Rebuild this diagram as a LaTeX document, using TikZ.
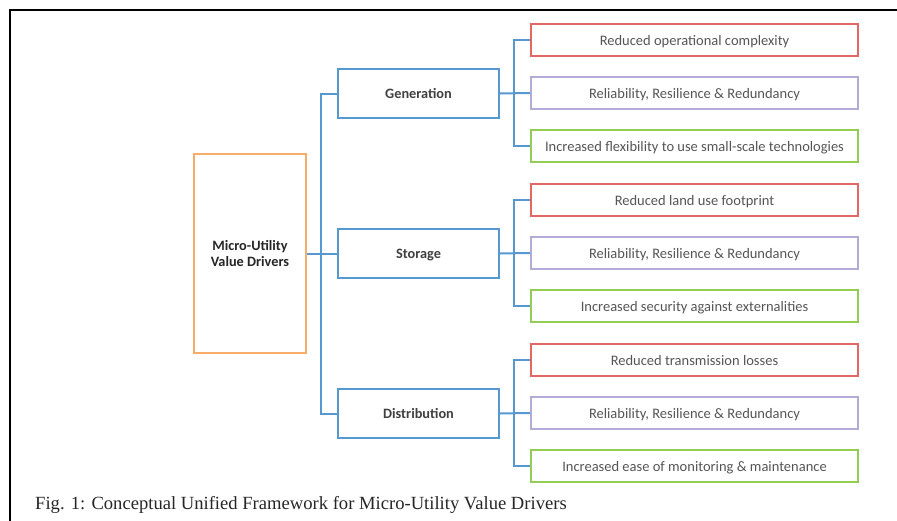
\documentclass[tikz,border=0pt]{standalone}
\usepackage{fontspec}
\setmainfont{Liberation Serif}
\newfontfamily\boxfont{Carlito}
\definecolor{linkblue}{RGB}{88,152,208}
\definecolor{rootorange}{RGB}{247,172,104}
\definecolor{edgered}{RGB}{226,104,104}
\definecolor{edgepurple}{RGB}{182,170,216}
\definecolor{edgegreen}{RGB}{146,206,86}
\definecolor{labelgray}{RGB}{85,85,85}
\definecolor{headgray}{RGB}{64,64,64}
\tikzset{
  linkline/.style={draw=linkblue, line width=2pt},
  rootbox/.style={draw=rootorange, line width=2pt, minimum width=112pt, minimum height=199pt,
    align=center, inner sep=0pt, font=\boxfont\bfseries\fontsize{14.3}{16}\selectfont, text=black!85},
  areabox/.style={draw=linkblue, line width=2pt, minimum width=161pt, minimum height=49pt,
    inner sep=0pt, text height=12pt, text depth=2pt,
    font=\boxfont\bfseries\fontsize{14.3}{16}\selectfont, text=headgray},
  leafbox/.style={line width=2pt, minimum width=327pt, minimum height=32pt,
    inner sep=0pt, text height=12pt, text depth=2pt,
    font=\boxfont\fontsize{14.5}{16}\selectfont, text=labelgray},
  redbox/.style={leafbox, draw=edgered},
  purplebox/.style={leafbox, draw=edgepurple},
  greenbox/.style={leafbox, draw=edgegreen}
}
\begin{document}
\begin{tikzpicture}[x=1pt, y=-1pt]
\useasboundingbox (0,0) rectangle (897,520);
% page frame
\draw[line width=2pt] (10,521) -- (10,10) -- (898,10);

% root and the three areas
\node[rootbox] (root) at (250,253.5) {Micro-Utility\\Value Drivers};
\node[areabox] (gen) at (418.5,93.5) {Generation};
\node[areabox] (sto) at (418.5,253.5) {Storage};
\node[areabox] (dis) at (418.5,413.5) {Distribution};

% generation drivers
\node[redbox]    (g1) at (694.5,40)  {Reduced operational complexity};
\node[purplebox] (g2) at (694.5,93)  {Reliability, Resilience \& Redundancy};
\node[greenbox]  (g3) at (694.5,146) {Increased flexibility to use small-scale technologies};
% storage drivers
\node[redbox]    (s1) at (694.5,200) {Reduced land use footprint};
\node[purplebox] (s2) at (694.5,253) {Reliability, Resilience \& Redundancy};
\node[greenbox]  (s3) at (694.5,306) {Increased security against externalities};
% distribution drivers
\node[redbox]    (d1) at (694.5,360) {Reduced transmission losses};
\node[purplebox] (d2) at (694.5,413) {Reliability, Resilience \& Redundancy};
\node[greenbox]  (d3) at (694.5,466) {Increased ease of monitoring \& maintenance};

% root to areas
\draw[linkline] (root.east) -- (sto.west);
\draw[linkline] (gen.west) -- ++(-16,0) |- (dis.west);

% areas to drivers
\draw[linkline] (gen.east) -- (g2.west);
\draw[linkline] (g1.west) -- ++(-16,0) |- (g3.west);
\draw[linkline] (sto.east) -- (s2.west);
\draw[linkline] (s1.west) -- ++(-16,0) |- (s3.west);
\draw[linkline] (dis.east) -- (d2.west);
\draw[linkline] (d1.west) -- ++(-16,0) |- (d3.west);

% caption
\node[anchor=base west, inner sep=0pt, font=\fontsize{18.6}{20}\selectfont, text=black!85] (cap) at (35,509)
  {Fig. 1: Conceptual Unified Framework for Micro-Utility Value Drivers};
\end{tikzpicture}
\end{document}
